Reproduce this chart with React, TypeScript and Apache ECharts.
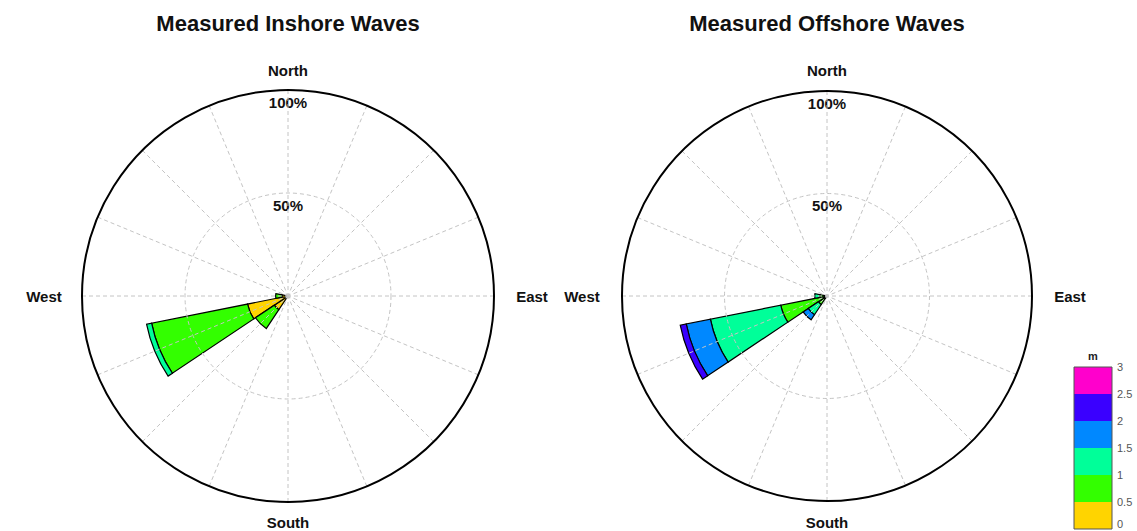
import React, { useEffect, useRef } from "react";
import * as echarts from "echarts";

// ---------- data ----------
const DIRECTIONS = ["N", "NNE", "NE", "ENE", "E", "ESE", "SE", "SSE", "S", "SSW", "SW", "WSW", "W", "WNW", "NW", "NNW"];
const SPEED_BINS = ["0–0.5 m", "0.5–1 m", "1–1.5 m", "1.5–2 m", "2–2.5 m", "2.5–3 m"];
const BIN_COLORS = ["#FFD400", "#33FF00", "#00FF99", "#0088FF", "#3A00FF", "#FF00CC"];
const COLORBAR_TICKS = ["0", "0.5", "1", "1.5", "2", "2.5", "3"];
const RADIUS_TICKS = [50, 100];
const COMPASS = ["North", "East", "South", "West"];
const TITLES = ["Measured Inshore Waves", "Measured Offshore Waves"];

// percent of time, per direction (N ... NNW), per wave height bin
const INSHORE_0_05 = [0, 0, 0, 0, 0, 0, 0, 0, 0, 0, 8, 20, 3, 0, 0, 0];
const INSHORE_05_1 = [0, 0, 0, 0, 0, 0, 0, 0, 0, 0, 11, 47.5, 3, 0, 0, 0];
const INSHORE_1_15 = [0, 0, 0, 0, 0, 0, 0, 0, 0, 0, 0, 2.5, 0, 0, 0, 0];
const INSHORE_15_2 = [0, 0, 0, 0, 0, 0, 0, 0, 0, 0, 0, 0, 0, 0, 0, 0];
const INSHORE_2_25 = [0, 0, 0, 0, 0, 0, 0, 0, 0, 0, 0, 0, 0, 0, 0, 0];
const INSHORE_25_3 = [0, 0, 0, 0, 0, 0, 0, 0, 0, 0, 0, 0, 0, 0, 0, 0];

const OFFSHORE_0_05 = [0, 0, 0, 0, 0, 0, 0, 0, 0, 0, 1, 2, 0.5, 0, 0, 0];
const OFFSHORE_05_1 = [0, 0, 0, 0, 0, 0, 0, 0, 0, 0, 4, 21, 3, 0, 0, 0];
const OFFSHORE_1_15 = [0, 0, 0, 0, 0, 0, 0, 0, 0, 0, 6, 35, 2.5, 0, 0, 0];
const OFFSHORE_15_2 = [0, 0, 0, 0, 0, 0, 0, 0, 0, 0, 3, 12, 0, 0, 0, 0];
const OFFSHORE_2_25 = [0, 0, 0, 0, 0, 0, 0, 0, 0, 0, 0, 3, 0, 0, 0, 0];
const OFFSHORE_25_3 = [0, 0, 0, 0, 0, 0, 0, 0, 0, 0, 0, 0, 0, 0, 0, 0];

const INSHORE = [INSHORE_0_05, INSHORE_05_1, INSHORE_1_15, INSHORE_15_2, INSHORE_2_25, INSHORE_25_3];
const OFFSHORE = [OFFSHORE_0_05, OFFSHORE_05_1, OFFSHORE_1_15, OFFSHORE_15_2, OFFSHORE_2_25, OFFSHORE_25_3];

// ---------- layout ----------
const W = 1137;
const H = 531;
const PLOTS = [
  { cx: 288, cy: 296, r: 206, data: INSHORE, westX: 44, eastX: 532 },
  { cx: 827, cy: 296, r: 205, data: OFFSHORE, westX: 582, eastX: 1070 },
];
const FONT = "'Liberation Sans', Arial, Helvetica, sans-serif";
const CB = { x: 1074, bottom: 529, w: 38, segH: 27 };
const GRID_COLOR = "#c4c4c4";

export default function App() {
  const ref = useRef<HTMLDivElement>(null);

  useEffect(() => {
    if (!ref.current) return;
    const chart = echarts.init(ref.current, null, { renderer: "svg" });

    const polar: any[] = [];
    const angleAxis: any[] = [];
    const radiusAxis: any[] = [];
    const series: any[] = [];
    const graphic: any[] = [];

    PLOTS.forEach((p, pi) => {
      const gridIdx = pi * 2;
      const barIdx = pi * 2 + 1;
      polar.push({ center: [p.cx, p.cy], radius: p.r });
      polar.push({ center: [p.cx, p.cy], radius: p.r });

      // grid polar (spokes, rings, outer circle)
      angleAxis.push({
        polarIndex: gridIdx,
        type: "value",
        min: 0,
        max: 360,
        interval: 22.5,
        startAngle: 90,
        clockwise: true,
        z: 5,
        axisLine: { show: true, lineStyle: { color: "#000", width: 2 } },
        axisTick: { show: false },
        axisLabel: { show: false },
        splitLine: { show: true, lineStyle: { color: GRID_COLOR, width: 1, type: [4, 3] } },
      });
      radiusAxis.push({
        polarIndex: gridIdx,
        type: "value",
        min: 0,
        max: 100,
        interval: 50,
        z: 5,
        axisLine: { show: false },
        axisTick: { show: false },
        axisLabel: { show: false },
        splitLine: { show: true, lineStyle: { color: GRID_COLOR, width: 1, type: [4, 3] } },
      });

      // bar polar
      angleAxis.push({
        polarIndex: barIdx,
        type: "category",
        data: DIRECTIONS,
        startAngle: 90 + 360 / DIRECTIONS.length / 2,
        clockwise: true,
        axisLine: { show: false },
        axisTick: { show: false },
        axisLabel: { show: false },
        splitLine: { show: false },
      });
      radiusAxis.push({
        polarIndex: barIdx,
        type: "value",
        min: 0,
        max: 100,
        axisLine: { show: false },
        axisTick: { show: false },
        axisLabel: { show: false },
        splitLine: { show: false },
      });

      p.data.forEach((arr, bi) => {
        series.push({
          type: "bar",
          name: SPEED_BINS[bi],
          coordinateSystem: "polar",
          polarIndex: barIdx,
          stack: "stack" + pi,
          barCategoryGap: "0%",
          data: arr.map((v) => (v === 0 ? null : v)),
          itemStyle: { color: BIN_COLORS[bi], borderColor: "#000", borderWidth: 1.2 },
          z: 2,
        });
      });

      // titles
      graphic.push({
        type: "text",
        style: {
          text: TITLES[pi],
          x: p.cx,
          y: 23,
          align: "center",
          verticalAlign: "middle",
          fontSize: 22,
          fontWeight: "bold",
          fontFamily: FONT,
          fill: "#111",
        },
      });

      // compass labels
      const compassPos = [
        [p.cx, 70],
        [p.eastX, p.cy],
        [p.cx, 522],
        [p.westX, p.cy],
      ];
      COMPASS.forEach((t, ci) => {
        graphic.push({
          type: "text",
          style: {
            text: t,
            x: compassPos[ci][0],
            y: compassPos[ci][1],
            align: "center",
            verticalAlign: "middle",
            fontSize: 15,
            fontWeight: "bold",
            fontFamily: FONT,
            fill: "#111",
          },
        });
      });

      // radius labels
      RADIUS_TICKS.forEach((v) => {
        graphic.push({
          type: "text",
          style: {
            text: v + "%",
            x: p.cx,
            y: p.cy - (p.r * v) / 100 + 12,
            align: "center",
            verticalAlign: "middle",
            fontSize: 15,
            fontWeight: "bold",
            fontFamily: FONT,
            fill: "#111",
          },
        });
      });
    });

    // colorbar
    BIN_COLORS.forEach((c, i) => {
      graphic.push({
        type: "rect",
        shape: { x: CB.x, y: CB.bottom - (i + 1) * CB.segH, width: CB.w, height: CB.segH },
        style: { fill: c },
      });
    });
    graphic.push({
      type: "rect",
      shape: { x: CB.x, y: CB.bottom - BIN_COLORS.length * CB.segH, width: CB.w, height: BIN_COLORS.length * CB.segH },
      style: { fill: "none", stroke: "#555", lineWidth: 1 },
    });
    COLORBAR_TICKS.forEach((t, i) => {
      graphic.push({
        type: "text",
        style: {
          text: t,
          x: CB.x + CB.w + 5,
          y: Math.min(CB.bottom - i * CB.segH, H - 7),
          align: "left",
          verticalAlign: "middle",
          fontSize: 11,
          fontFamily: FONT,
          fill: "#555",
        },
      });
    });
    graphic.push({
      type: "text",
      style: {
        text: "m",
        x: CB.x + CB.w / 2,
        y: CB.bottom - BIN_COLORS.length * CB.segH - 11,
        align: "center",
        verticalAlign: "middle",
        fontSize: 11,
        fontWeight: "bold",
        fontFamily: FONT,
        fill: "#222",
      },
    });

    chart.setOption({
      animation: false,
      backgroundColor: "#fff",
      polar,
      angleAxis,
      radiusAxis,
      series,
      graphic,
    });

    return () => chart.dispose();
  }, []);

  return (
    <div
      ref={ref}
      style={{ position: "fixed", left: 0, top: 0, width: W, height: H, background: "#fff" }}
    />
  );
}
